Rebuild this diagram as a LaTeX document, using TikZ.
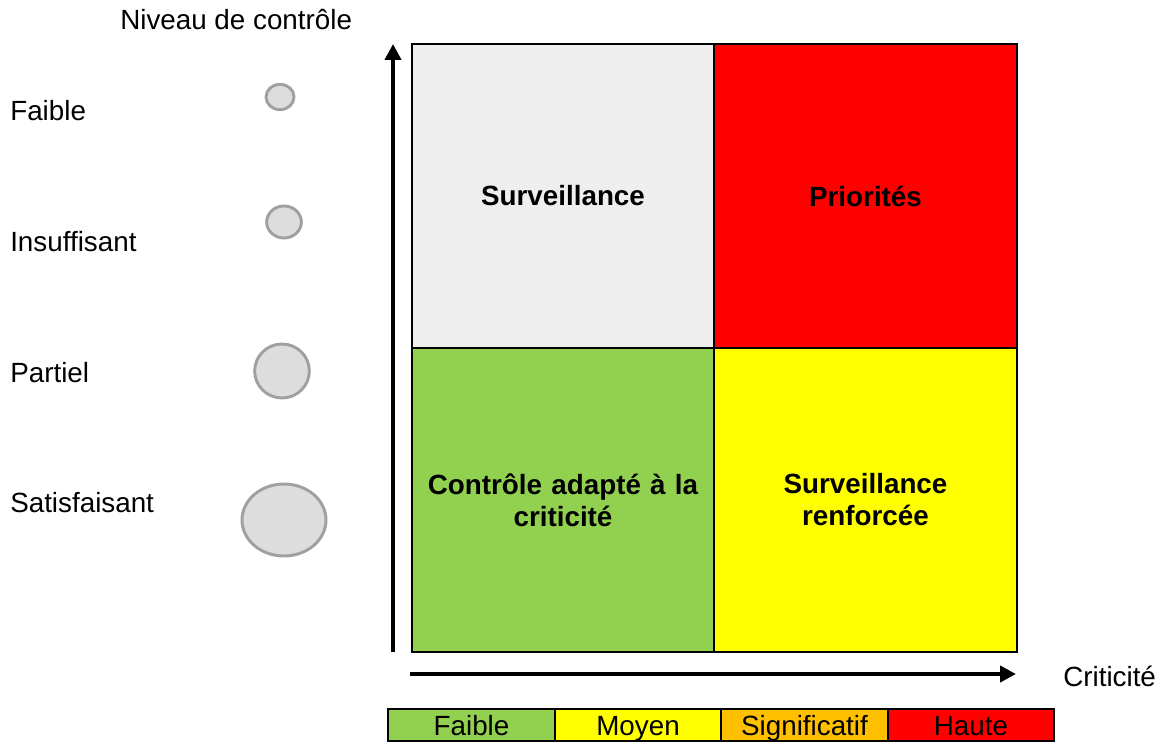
\documentclass[tikz,border=0pt]{standalone}
\usepackage{fontspec}
\setmainfont{Liberation Sans}
\usetikzlibrary{positioning,arrows.meta,shapes.geometric}

\definecolor{cellgray}{HTML}{EEEEEE}
\definecolor{cellred}{HTML}{FF0000}
\definecolor{cellgreen}{HTML}{92D050}
\definecolor{cellyellow}{HTML}{FFFF00}
\definecolor{legorange}{HTML}{FFC000}
\definecolor{bubblefill}{HTML}{DDDDDD}
\definecolor{bubbleline}{HTML}{A0A0A0}

\newcommand{\bigfont}{\fontsize{20.85}{24}\selectfont}

\tikzset{
  cell/.style={draw,line width=1.5pt,minimum width=226.9pt,minimum height=228pt,
    inner sep=0pt,align=center,text width=210pt,font=\bigfont\bfseries},
  legcell/.style={draw,line width=1.5pt,minimum width=124.9pt,minimum height=24pt,
    inner sep=0pt,text height=15pt,text depth=0pt},
  bubble/.style={ellipse,draw=bubbleline,fill=bubblefill,line width=2.2pt,inner sep=0pt},
  lbl/.style={inner sep=0pt,anchor=base west},
  axis/.style={line width=3pt,-{Triangle[length=12pt,width=12pt]}}
}

\begin{document}
\begin{tikzpicture}[x=0.75pt,y=-0.75pt,font=\bigfont]
        \useasboundingbox (0,0) rectangle (1159,742);

        % matrice
        \node[cell,fill=cellgray] (surv) at (563,196) {Surveillance};
        \node[cell,fill=cellred] (prio) at (865.5,196) {Priorités};
        \node[cell,fill=cellgreen] (adapt) at (563,500) {Contrôle adapté à la\\criticité};
        \node[cell,fill=cellyellow] (renf) at (865.5,500) {Surveillance\\renforcée};

        % axes
        \coordinate (yfrom) at (393,652);
        \coordinate (yto) at (393,44);
        \coordinate (xfrom) at (410,674);
        \coordinate (xto) at (1016,674);
        \draw[axis] (yfrom) -- (yto);
        \draw[axis] (xfrom) -- (xto);

        \node[lbl] (niveau) at (120,30) {Niveau de contrôle};
        \node[lbl] (crit) at (1063,686) {Criticité};

        % niveaux de controle
        \node[lbl] (faible) at (10,120) {Faible};
        \node[lbl] (insuf) at (10,251) {Insuffisant};
        \node[lbl] (partiel) at (10,382) {Partiel};
        \node[lbl] (satisf) at (10,512) {Satisfaisant};

        \node[bubble,minimum width=21pt,minimum height=19pt] (b1) at (280,97) {};
        \node[bubble,minimum width=26pt,minimum height=24pt] (b2) at (284,222) {};
        \node[bubble,minimum width=41pt,minimum height=40.5pt] (b3) at (282,371) {};
        \node[bubble,minimum width=63pt,minimum height=54pt] (b4) at (284,520) {};

        % legende
        \node[legcell,fill=cellgreen] (lfaible) at (471.5,725) {Faible};
        \node[legcell,fill=cellyellow] (lmoyen) at (638,725) {Moyen};
        \node[legcell,fill=legorange] (lsignif) at (804.5,725) {Significatif};
        \node[legcell,fill=cellred] (lhaute) at (971,725) {Haute};
    \end{tikzpicture}
\end{document}
